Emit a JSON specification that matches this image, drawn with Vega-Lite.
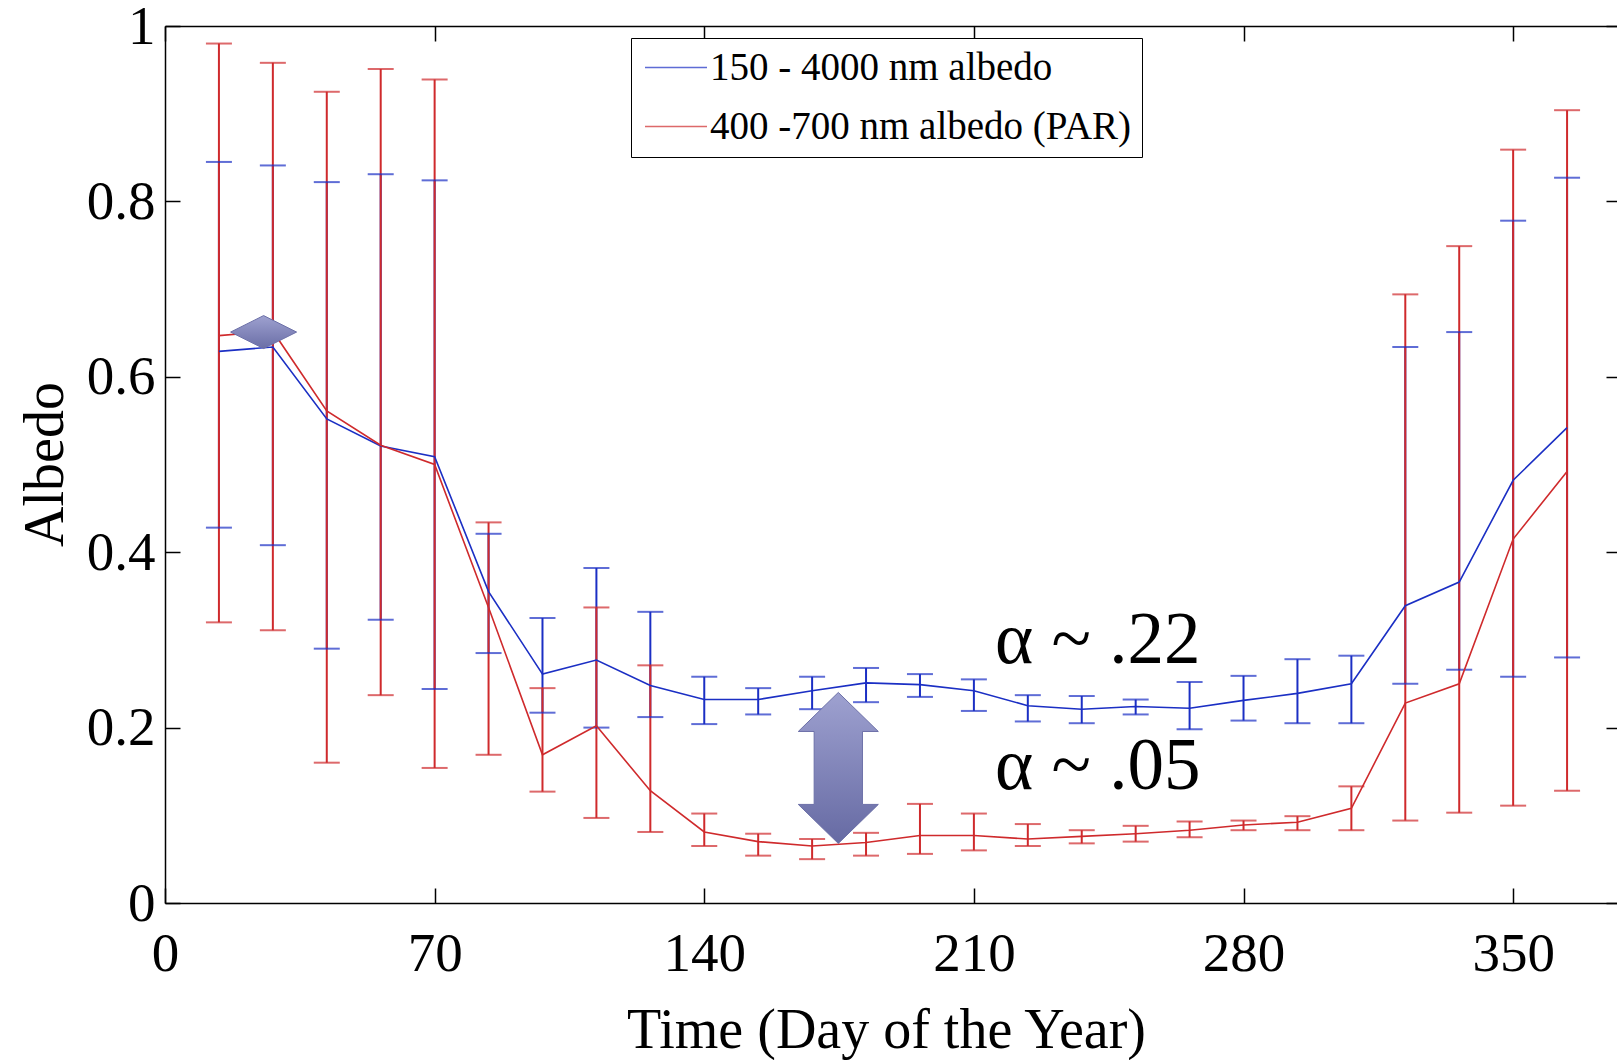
{
  "$schema": "https://vega.github.io/schema/vega-lite/v6.json",
  "width": 1456,
  "height": 877,
  "autosize": {"type": "none"},
  "padding": {"left": 165, "top": 26, "right": 0, "bottom": 157},
  "background": "white",
  "config": {
    "view": {"stroke": null},
    "font": "Liberation Serif"
  },
  "datasets": {
    "d": [
      {"day": 14, "series": "150 - 4000 nm albedo", "mean": 0.629, "lo": 0.428, "hi": 0.845},
      {"day": 28, "series": "150 - 4000 nm albedo", "mean": 0.634, "lo": 0.408, "hi": 0.841},
      {"day": 42, "series": "150 - 4000 nm albedo", "mean": 0.552, "lo": 0.290, "hi": 0.822},
      {"day": 56, "series": "150 - 4000 nm albedo", "mean": 0.521, "lo": 0.323, "hi": 0.831},
      {"day": 70, "series": "150 - 4000 nm albedo", "mean": 0.509, "lo": 0.244, "hi": 0.824},
      {"day": 84, "series": "150 - 4000 nm albedo", "mean": 0.355, "lo": 0.285, "hi": 0.421},
      {"day": 98, "series": "150 - 4000 nm albedo", "mean": 0.261, "lo": 0.217, "hi": 0.325},
      {"day": 112, "series": "150 - 4000 nm albedo", "mean": 0.277, "lo": 0.200, "hi": 0.382},
      {"day": 126, "series": "150 - 4000 nm albedo", "mean": 0.248, "lo": 0.212, "hi": 0.332},
      {"day": 140, "series": "150 - 4000 nm albedo", "mean": 0.232, "lo": 0.204, "hi": 0.258},
      {"day": 154, "series": "150 - 4000 nm albedo", "mean": 0.232, "lo": 0.215, "hi": 0.245},
      {"day": 168, "series": "150 - 4000 nm albedo", "mean": 0.242, "lo": 0.221, "hi": 0.258},
      {"day": 182, "series": "150 - 4000 nm albedo", "mean": 0.251, "lo": 0.229, "hi": 0.268},
      {"day": 196, "series": "150 - 4000 nm albedo", "mean": 0.249, "lo": 0.235, "hi": 0.261},
      {"day": 210, "series": "150 - 4000 nm albedo", "mean": 0.242, "lo": 0.219, "hi": 0.255},
      {"day": 224, "series": "150 - 4000 nm albedo", "mean": 0.225, "lo": 0.207, "hi": 0.237},
      {"day": 238, "series": "150 - 4000 nm albedo", "mean": 0.221, "lo": 0.205, "hi": 0.236},
      {"day": 252, "series": "150 - 4000 nm albedo", "mean": 0.224, "lo": 0.215, "hi": 0.232},
      {"day": 266, "series": "150 - 4000 nm albedo", "mean": 0.222, "lo": 0.198, "hi": 0.252},
      {"day": 280, "series": "150 - 4000 nm albedo", "mean": 0.231, "lo": 0.208, "hi": 0.259},
      {"day": 294, "series": "150 - 4000 nm albedo", "mean": 0.239, "lo": 0.205, "hi": 0.278},
      {"day": 308, "series": "150 - 4000 nm albedo", "mean": 0.250, "lo": 0.205, "hi": 0.282},
      {"day": 322, "series": "150 - 4000 nm albedo", "mean": 0.339, "lo": 0.250, "hi": 0.634},
      {"day": 336, "series": "150 - 4000 nm albedo", "mean": 0.366, "lo": 0.266, "hi": 0.651},
      {"day": 350, "series": "150 - 4000 nm albedo", "mean": 0.482, "lo": 0.258, "hi": 0.778},
      {"day": 364, "series": "150 - 4000 nm albedo", "mean": 0.542, "lo": 0.280, "hi": 0.827},
      {"day": 14, "series": "400 -700 nm albedo (PAR)", "mean": 0.647, "lo": 0.320, "hi": 0.980},
      {"day": 28, "series": "400 -700 nm albedo (PAR)", "mean": 0.652, "lo": 0.311, "hi": 0.958},
      {"day": 42, "series": "400 -700 nm albedo (PAR)", "mean": 0.561, "lo": 0.160, "hi": 0.925},
      {"day": 56, "series": "400 -700 nm albedo (PAR)", "mean": 0.522, "lo": 0.237, "hi": 0.951},
      {"day": 70, "series": "400 -700 nm albedo (PAR)", "mean": 0.500, "lo": 0.154, "hi": 0.939},
      {"day": 84, "series": "400 -700 nm albedo (PAR)", "mean": 0.337, "lo": 0.169, "hi": 0.434},
      {"day": 98, "series": "400 -700 nm albedo (PAR)", "mean": 0.169, "lo": 0.127, "hi": 0.245},
      {"day": 112, "series": "400 -700 nm albedo (PAR)", "mean": 0.202, "lo": 0.097, "hi": 0.337},
      {"day": 126, "series": "400 -700 nm albedo (PAR)", "mean": 0.128, "lo": 0.081, "hi": 0.271},
      {"day": 140, "series": "400 -700 nm albedo (PAR)", "mean": 0.081, "lo": 0.065, "hi": 0.102},
      {"day": 154, "series": "400 -700 nm albedo (PAR)", "mean": 0.070, "lo": 0.054, "hi": 0.079},
      {"day": 168, "series": "400 -700 nm albedo (PAR)", "mean": 0.065, "lo": 0.050, "hi": 0.073},
      {"day": 182, "series": "400 -700 nm albedo (PAR)", "mean": 0.069, "lo": 0.054, "hi": 0.080},
      {"day": 196, "series": "400 -700 nm albedo (PAR)", "mean": 0.077, "lo": 0.056, "hi": 0.113},
      {"day": 210, "series": "400 -700 nm albedo (PAR)", "mean": 0.077, "lo": 0.060, "hi": 0.102},
      {"day": 224, "series": "400 -700 nm albedo (PAR)", "mean": 0.073, "lo": 0.065, "hi": 0.090},
      {"day": 238, "series": "400 -700 nm albedo (PAR)", "mean": 0.076, "lo": 0.068, "hi": 0.083},
      {"day": 252, "series": "400 -700 nm albedo (PAR)", "mean": 0.079, "lo": 0.070, "hi": 0.088},
      {"day": 266, "series": "400 -700 nm albedo (PAR)", "mean": 0.083, "lo": 0.075, "hi": 0.093},
      {"day": 280, "series": "400 -700 nm albedo (PAR)", "mean": 0.089, "lo": 0.083, "hi": 0.094},
      {"day": 294, "series": "400 -700 nm albedo (PAR)", "mean": 0.092, "lo": 0.083, "hi": 0.099},
      {"day": 308, "series": "400 -700 nm albedo (PAR)", "mean": 0.108, "lo": 0.083, "hi": 0.133},
      {"day": 322, "series": "400 -700 nm albedo (PAR)", "mean": 0.228, "lo": 0.094, "hi": 0.694},
      {"day": 336, "series": "400 -700 nm albedo (PAR)", "mean": 0.250, "lo": 0.103, "hi": 0.749},
      {"day": 350, "series": "400 -700 nm albedo (PAR)", "mean": 0.415, "lo": 0.111, "hi": 0.859},
      {"day": 364, "series": "400 -700 nm albedo (PAR)", "mean": 0.492, "lo": 0.128, "hi": 0.904}
    ],
    "notes": [
      {"day": 215.5, "value": 0.274, "label": "α ~ .22"},
      {"day": 215.5, "value": 0.130, "label": "α ~ .05"}
    ],
    "arrow": [{"day": 174.8, "value": 0.154}],
    "diamond": [{"day": 25.6, "value": 0.651}]
  },
  "resolve": {
    "scale": {"x": "shared", "y": "shared", "color": "shared"},
    "axis": {"x": "independent", "y": "independent"}
  },
  "layer": [
    {
      "data": {"name": "d"},
      "mark": {"type": "rule", "strokeWidth": 2},
      "encoding": {
        "x": {
          "field": "day", "type": "quantitative",
          "scale": {"domain": [0, 378], "nice": false, "zero": false},
          "axis": {
            "orient": "bottom",
            "values": [0, 70, 140, 210, 280, 350],
            "grid": false,
            "tickSize": -15, "tickWidth": 1.5, "tickColor": "black",
            "domainColor": "black", "domainWidth": 1.5,
            "labelFont": "Liberation Serif", "labelFontSize": 55, "labelColor": "black",
            "labelPadding": 39, "labelFlush": false, "labelOverlap": false,
            "title": "Time (Day of the Year)",
            "titleFont": "Liberation Serif", "titleFontSize": 56, "titleFontWeight": "normal", "titleColor": "black",
            "titleBaseline": "alphabetic", "titleAlign": "center", "titleX": 721, "titleY": 144
          }
        },
        "y": {
          "field": "lo", "type": "quantitative",
          "scale": {"domain": [0, 1], "nice": false},
          "axis": {
            "orient": "left",
            "values": [0, 0.2, 0.4, 0.6, 0.8, 1],
            "format": "~g",
            "grid": false,
            "tickSize": -15, "tickWidth": 1.5, "tickColor": "black",
            "domainColor": "black", "domainWidth": 1.5,
            "labelFont": "Liberation Serif", "labelFontSize": 55, "labelColor": "black",
            "labelPadding": 25, "labelFlush": false, "labelOverlap": false,
            "title": "Albedo",
            "titleFont": "Liberation Serif", "titleFontSize": 56, "titleFontWeight": "normal", "titleColor": "black",
            "titleBaseline": "alphabetic", "titleAlign": "center", "titleAngle": -90, "titleX": -103, "titleY": 438
          }
        },
        "y2": {"field": "hi"},
        "color": {
          "field": "series", "type": "nominal",
          "scale": {"domain": ["150 - 4000 nm albedo", "400 -700 nm albedo (PAR)"], "range": ["#1b2fc4", "#cf2a2c"]},
          "legend": {
            "orient": "none", "legendX": 466, "legendY": 12,
            "title": null,
            "symbolType": "M-1,0 L3,0",
            "symbolSize": 961, "symbolStrokeWidth": 1.5, "symbolFillColor": "transparent",
            "labelFont": "Liberation Serif", "labelFontSize": 39, "labelColor": "black", "labelOffset": 30, "labelLimit": 0,
            "rowPadding": 19, "padding": 10,
            "strokeColor": "black", "fillColor": "white"
          }
        }
      }
    },
    {
      "data": {"name": "d"},
      "mark": {"type": "tick", "orient": "horizontal", "size": 26, "thickness": 2},
      "encoding": {
        "x": {"field": "day", "type": "quantitative", "axis": null},
        "y": {"field": "lo", "type": "quantitative", "axis": null},
        "color": {"field": "series", "type": "nominal"}
      }
    },
    {
      "data": {"name": "d"},
      "mark": {"type": "tick", "orient": "horizontal", "size": 26, "thickness": 2},
      "encoding": {
        "x": {"field": "day", "type": "quantitative", "axis": null},
        "y": {"field": "hi", "type": "quantitative", "axis": null},
        "color": {"field": "series", "type": "nominal"}
      }
    },
    {
      "data": {"name": "d"},
      "mark": {"type": "line", "strokeWidth": 1.6},
      "encoding": {
        "x": {"field": "day", "type": "quantitative", "axis": null},
        "y": {"field": "mean", "type": "quantitative", "axis": null},
        "color": {"field": "series", "type": "nominal"}
      }
    },
    {
      "data": {"name": "notes"},
      "mark": {"type": "text", "align": "left", "baseline": "alphabetic", "font": "Liberation Serif", "fontSize": 73, "color": "black"},
      "encoding": {
        "x": {
          "field": "day", "type": "quantitative",
          "axis": {"orient": "top", "values": [0, 70, 140, 210, 280, 350], "labels": false, "title": null, "grid": false,
                   "tickSize": -15, "tickWidth": 1.5, "tickColor": "black", "domainColor": "black", "domainWidth": 1.5}
        },
        "y": {
          "field": "value", "type": "quantitative",
          "axis": {"orient": "right", "values": [0, 0.2, 0.4, 0.6, 0.8, 1], "labels": false, "title": null, "grid": false,
                   "tickSize": -15, "tickWidth": 1.5, "tickColor": "black", "domainColor": "black", "domainWidth": 1.5}
        },
        "text": {"field": "label"}
      }
    },
    {
      "data": {"name": "arrow"},
      "mark": {
        "type": "point",
        "shape": "M0,-1 L0.53,-0.483 L0.32,-0.483 L0.32,0.483 L0.53,0.483 L0,1 L-0.53,0.483 L-0.32,0.483 L-0.32,-0.483 L-0.53,-0.483 Z",
        "size": 22801,
        "filled": true,
        "opacity": 1,
        "fill": {"gradient": "linear", "x1": 0, "y1": 0, "x2": 0, "y2": 1, "stops": [{"offset": 0, "color": "#9ea1d0"}, {"offset": 1, "color": "#666aa3"}]},
        "stroke": "#6c70a8",
        "strokeWidth": 1
      },
      "encoding": {
        "x": {"field": "day", "type": "quantitative", "axis": null},
        "y": {"field": "value", "type": "quantitative", "axis": null}
      }
    },
    {
      "data": {"name": "diamond"},
      "mark": {
        "type": "point",
        "shape": "M-1,0 L0,-0.5 L1,0 L0,0.5 Z",
        "size": 4356,
        "filled": true,
        "opacity": 1,
        "fill": {"gradient": "linear", "x1": 0, "y1": 0, "x2": 0, "y2": 1, "stops": [{"offset": 0, "color": "#9ea1d0"}, {"offset": 1, "color": "#6a6ea6"}]},
        "stroke": "#6c70a8",
        "strokeWidth": 1
      },
      "encoding": {
        "x": {"field": "day", "type": "quantitative", "axis": null},
        "y": {"field": "value", "type": "quantitative", "axis": null}
      }
    }
  ]
}
